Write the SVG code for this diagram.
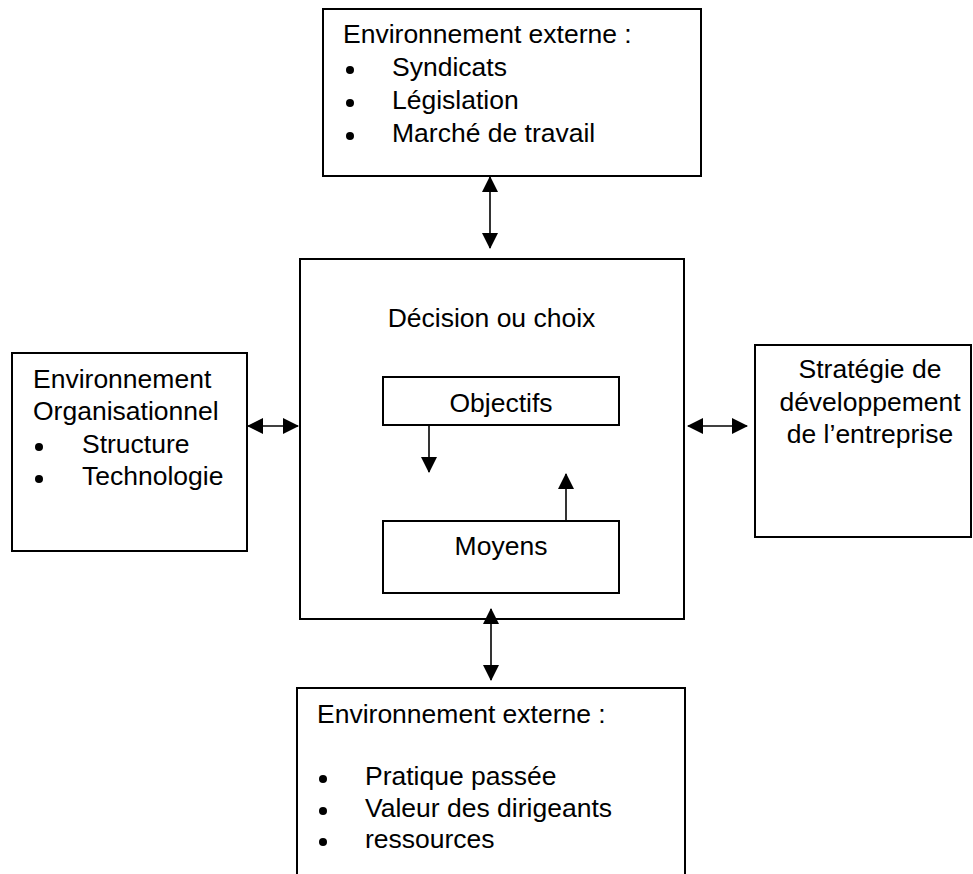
<svg xmlns="http://www.w3.org/2000/svg" width="973" height="874" viewBox="0 0 973 874">
<style>
.box{fill:#fff;stroke:#000;stroke-width:2}
.t{font-family:"Liberation Sans",Arial,sans-serif;font-size:26.5px;fill:#000}
.c{text-anchor:middle}
.b{fill:#000}
.conn line{stroke:#000;stroke-width:1.6;fill:none}
</style>
<defs>
<marker id="ah" markerUnits="userSpaceOnUse" markerWidth="16" markerHeight="16" refX="15" refY="8" orient="auto-start-reverse" viewBox="0 0 16 16">
<path d="M0,0 L16,8 L0,16 z" fill="#000"/>
</marker>
</defs>
<rect width="973" height="874" fill="#fff"/>

<g id="top">
<rect class="box" x="323" y="9" width="378" height="167"/>
<text class="t" x="343" y="43">Environnement externe :</text>
<circle class="b" cx="350" cy="70" r="4"/>
<text class="t" x="392" y="76">Syndicats</text>
<circle class="b" cx="350" cy="103" r="4"/>
<text class="t" x="392" y="109">Législation</text>
<circle class="b" cx="350" cy="136" r="4"/>
<text class="t" x="392" y="142">Marché de travail</text>
</g>

<g id="left">
<rect class="box" x="12" y="353" width="235" height="198"/>
<text class="t" x="33" y="388">Environnement</text>
<text class="t" x="33" y="420">Organisationnel</text>
<circle class="b" cx="39" cy="447" r="4"/>
<text class="t" x="82" y="453">Structure</text>
<circle class="b" cx="39" cy="479" r="4"/>
<text class="t" x="82" y="485">Technologie</text>
</g>

<g id="center">
<rect class="box" x="300" y="259" width="384" height="360"/>
<text class="t c" x="491.5" y="327">Décision ou choix</text>
</g>

<g id="objectifs">
<rect class="box" x="383" y="377" width="236" height="48"/>
<text class="t c" x="501" y="412">Objectifs</text>
</g>

<g id="moyens">
<rect class="box" x="383" y="521" width="236" height="72"/>
<text class="t c" x="501" y="555">Moyens</text>
</g>

<g id="right">
<rect class="box" x="755" y="345" width="216" height="192"/>
<text class="t c" x="870" y="378">Stratégie de</text>
<text class="t c" x="870" y="411">développement</text>
<text class="t c" x="870" y="443">de l’entreprise</text>
</g>

<g id="bottom">
<rect class="box" x="297" y="688" width="388" height="200"/>
<text class="t" x="317" y="723">Environnement externe :</text>
<circle class="b" cx="323" cy="779" r="4"/>
<text class="t" x="365" y="785">Pratique passée</text>
<circle class="b" cx="323" cy="811" r="4"/>
<text class="t" x="365" y="817">Valeur des dirigeants</text>
<circle class="b" cx="323" cy="842" r="4"/>
<text class="t" x="365" y="848">ressources</text>
</g>

<g id="connectors" class="conn">
<line x1="490" y1="177" x2="490" y2="248" marker-start="url(#ah)" marker-end="url(#ah)"/>
<line x1="248" y1="426" x2="298" y2="426" marker-start="url(#ah)" marker-end="url(#ah)"/>
<line x1="688" y1="426" x2="747" y2="426" marker-start="url(#ah)" marker-end="url(#ah)"/>
<line x1="491" y1="609" x2="491" y2="680" marker-start="url(#ah)" marker-end="url(#ah)"/>
<line x1="429" y1="425" x2="429" y2="472" marker-end="url(#ah)"/>
<line x1="566" y1="521" x2="566" y2="474" marker-end="url(#ah)"/>
</g>
</svg>
